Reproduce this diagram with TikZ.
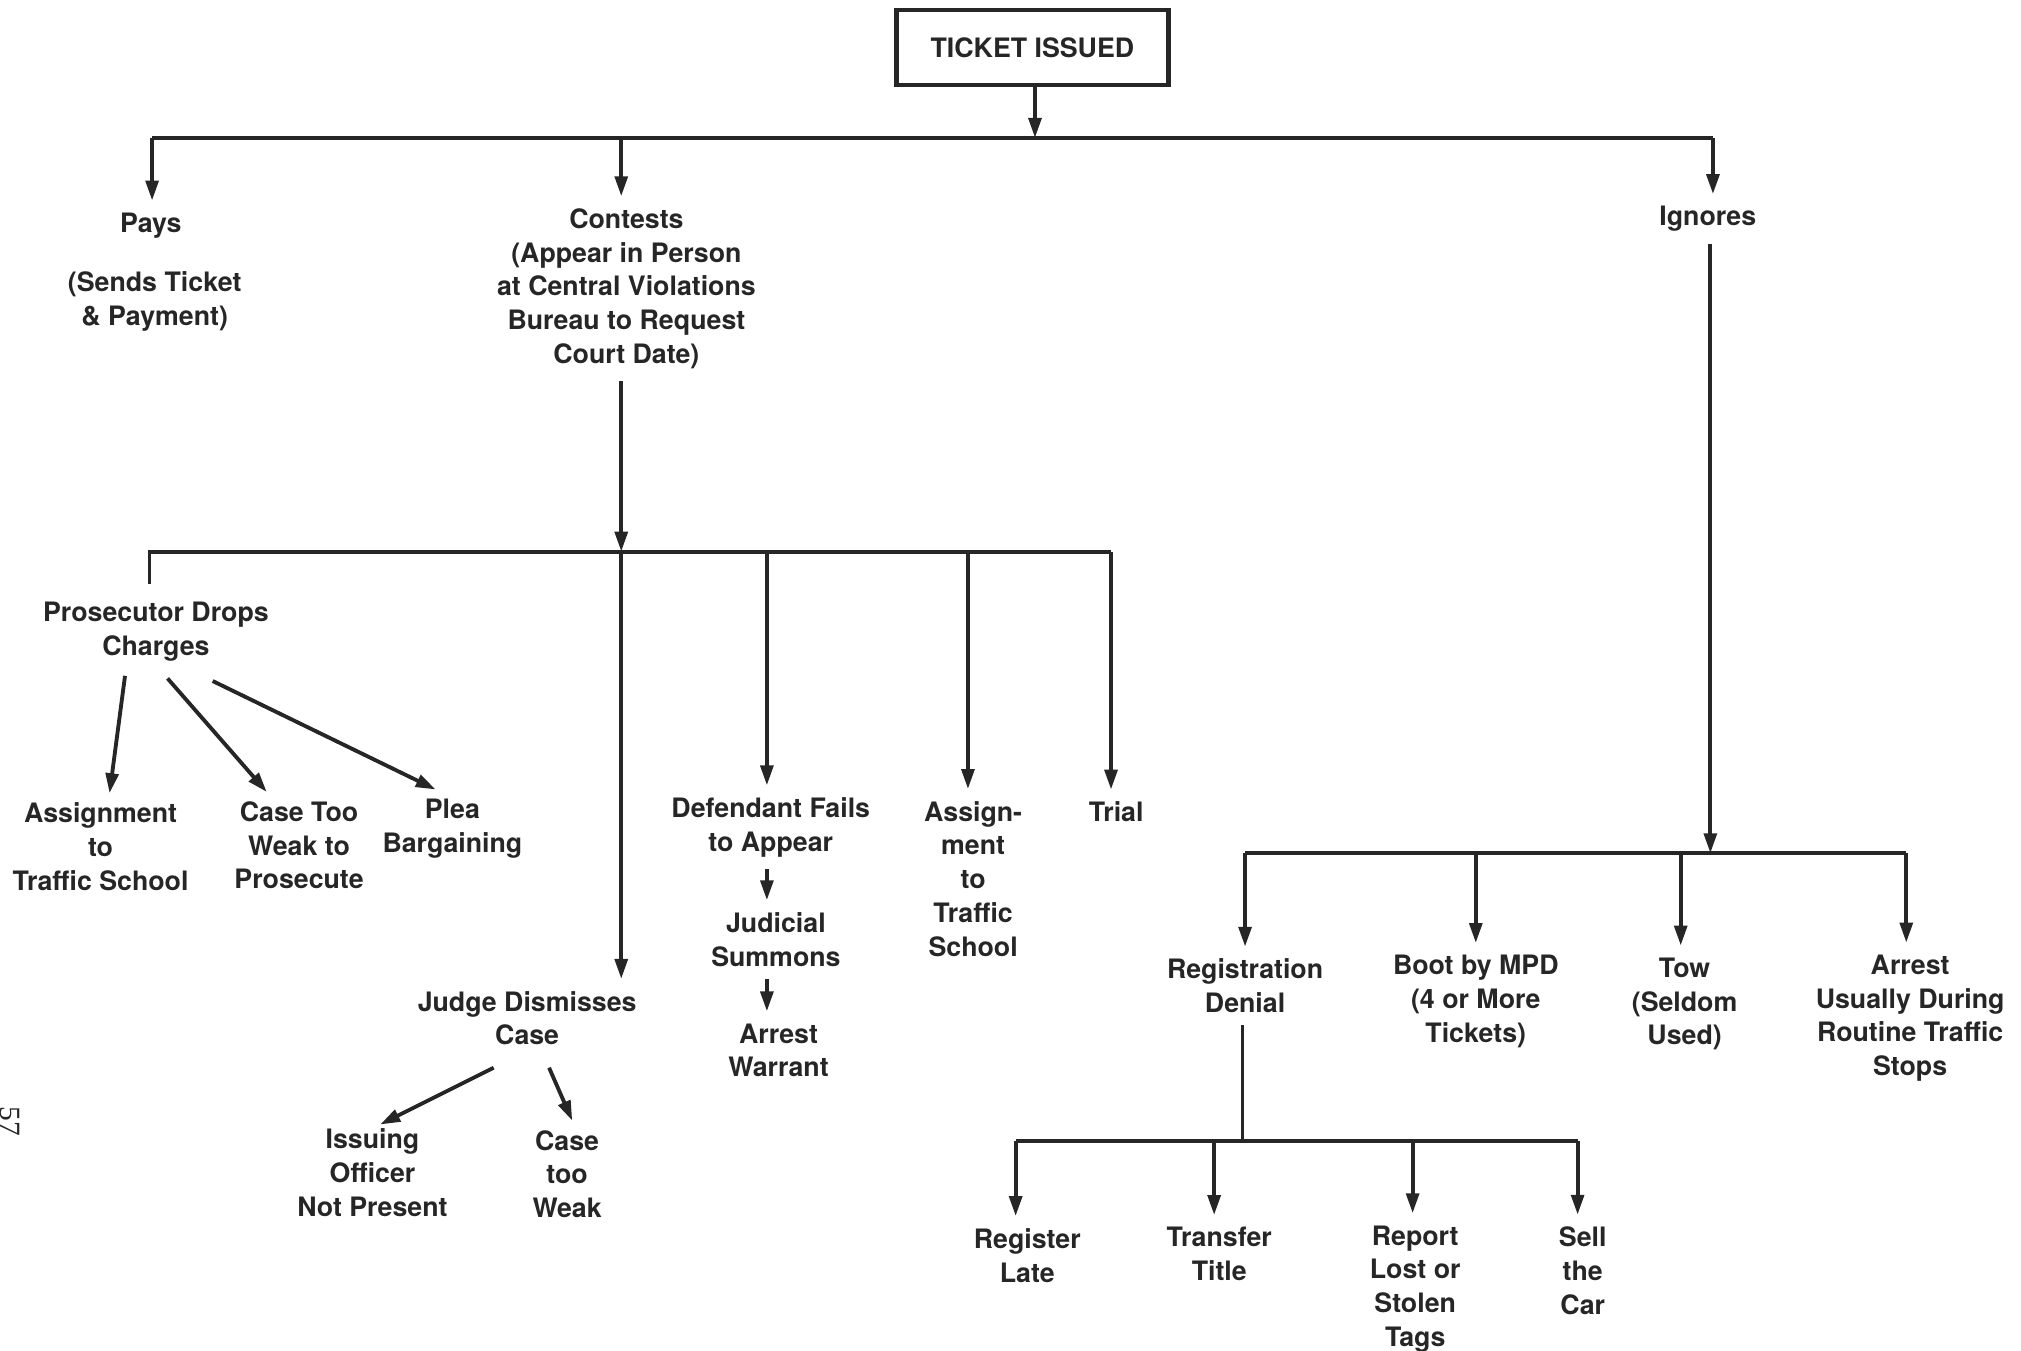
\documentclass[tikz,border=0pt]{standalone}
\usepackage{fontspec}
\setmainfont{TeX Gyre Heros}
\newfontfamily\numfont{Liberation Serif}
\usetikzlibrary{arrows.meta,calc}
\definecolor{ink}{HTML}{262626}
\begin{document}
\begin{tikzpicture}[x=0.01cm,y=-0.01cm,
  wire/.style={draw=ink, line width=0.85pt},
  flow/.style={wire, -{Triangle[length=4.4pt,width=2.8pt]}},
  txt/.style={text=ink, font=\bfseries\fontsize{5.9}{7.45}\selectfont, align=center, inner sep=2.5pt},
  lbl/.style={txt, yshift=-0.55pt},
  tbox/.style={txt, draw=ink, line width=0.95pt, minimum width=2.11cm, minimum height=0.58cm}]
\useasboundingbox (0,0) rectangle (1568,1048);

% root
\node[tbox] (ticket) at (801,37) {TICKET ISSUED};

% first level
\node[lbl] (pays) at (117,173) {Pays};
\node[lbl] (paysnote) at (120,232) {(Sends Ticket\\\& Payment)};
\node[lbl] (contests) at (486,222) {Contests\\(Appear in Person\\at Central Violations\\Bureau to Request\\Court Date)};
\node[lbl] (ignores) at (1325,168) {Ignores};

\coordinate (t1) at (118,107);
\coordinate (t2) at (482,107);
\coordinate (t3) at (803,107);
\coordinate (t4) at (1329,107);
\draw[flow] (ticket.south -| t3) -- (t3);
\draw[wire] (t1) -- (t4);
\draw[flow] (t1) -- (t1 |- pays.north);
\draw[flow] (t2) -- (t2 |- contests.north);
\draw[flow] (t4) -- (t4 |- ignores.north);

% contests branch
\node[lbl] (pros) at (121,488) {Prosecutor Drops\\Charges};
\node[lbl] (defend) at (598,640) {Defendant Fails\\to Appear};
\node[lbl] (assignb) at (755,680) {Assign-\\ment\\to\\Traffic\\School};
\node[lbl] (trial) at (866,628) {Trial};
\node[lbl] (judge) at (409,788) {Judge Dismisses\\Case};

\coordinate (c0) at (116,428);
\coordinate (c0e) at (116,453);
\coordinate (c2) at (482,428);
\coordinate (c3) at (595,428);
\coordinate (c4) at (751,428);
\coordinate (c5) at (862,428);
\draw[flow] (contests.south -| c2) -- (c2);
\draw[wire] (c0e) -- (c0) -- (c5);
\draw[flow] (c2) -- (c2 |- judge.north);
\draw[flow] (c3) -- (c3 |- defend.north);
\draw[flow] (c4) -- (c4 |- assignb.north);
\draw[flow] (c5) -- (c5 |- trial.north);

% prosecutor drops charges
\node[lbl] (assigna) at (78,655) {Assignment\\to\\Traffic School};
\node[lbl] (weak) at (232,654) {Case Too\\Weak to\\Prosecute};
\node[lbl] (plea) at (351,641) {Plea\\Bargaining};
\draw[flow] ($(pros.south)+(-24,2)$) -- ($(assigna.north)+(7,2)$);
\draw[flow] ($(pros.south)+(9,4)$) -- ($(weak.north)+(-25,2)$);
\draw[flow] ($(pros.south)+(44,6)$) -- ($(plea.north)+(-13,2)$);

% defendant fails to appear
\node[lbl] (summons) at (602,727) {Judicial\\Summons};
\node[lbl] (warrant) at (604,813) {Arrest\\Warrant};
\coordinate (d0) at (595,0);
\draw[flow] (defend.south -| d0) -- (summons.north -| d0);
\draw[flow] (summons.south -| d0) -- (warrant.north -| d0);

% judge dismisses case
\node[lbl] (officer) at (289,908) {Issuing\\Officer\\Not Present};
\node[lbl] (tooweak) at (440,909) {Case\\too\\Weak};
\draw[flow] ($(judge.south)+(-26,8)$) -- ($(officer.north)+(6,6)$);
\draw[flow] ($(judge.south)+(17,8)$) -- ($(tooweak.north)+(4,2)$);

% ignores branch
\node[lbl] (regden) at (966,763) {Registration\\Denial};
\node[lbl] (boot) at (1145,775) {Boot by MPD\\(4 or More\\Tickets)};
\node[lbl] (tow) at (1307,777) {Tow\\(Seldom\\Used)};
\node[lbl] (arrest) at (1482,788) {Arrest\\Usually During\\Routine Traffic\\Stops};

\coordinate (i0) at (1327,662);
\coordinate (i1) at (966,662);
\coordinate (i2) at (1145,662);
\coordinate (i3) at (1304,662);
\coordinate (i4) at (1479,662);
\draw[flow] (ignores.south -| i0) -- (i0);
\draw[wire] (i1) -- (i4);
\draw[flow] (i1) -- (i1 |- regden.north);
\draw[flow] (i2) -- (i2 |- boot.north);
\draw[flow] (i3) -- (i3 |- tow.north);
\draw[flow] (i4) -- (i4 |- arrest.north);

% registration denial
\node[lbl] (late) at (797,972) {Register\\Late};
\node[lbl] (title) at (946,971) {Transfer\\Title};
\node[lbl] (tags) at (1098,998) {Report\\Lost or\\Stolen\\Tags};
\node[lbl] (sell) at (1228,984) {Sell\\the\\Car};

\coordinate (r0) at (964,885);
\coordinate (r1) at (788,885);
\coordinate (r2) at (942,885);
\coordinate (r3) at (1096,885);
\coordinate (r4) at (1224,885);
\draw[wire] (regden.south -| r0) -- (r0);
\draw[wire] (r1) -- (r4);
\draw[flow] (r1) -- (r1 |- late.north);
\draw[flow] (r2) -- (r2 |- title.north);
\draw[flow] (r3) -- (r3 |- tags.north);
\draw[flow] (r4) -- (r4 |- sell.north);

% page number
\node[text=ink, font=\numfont\fontsize{6.5}{7}\selectfont, rotate=-90, inner sep=0] (pagenum) at (8,870) {57};
\end{tikzpicture}
\end{document}
